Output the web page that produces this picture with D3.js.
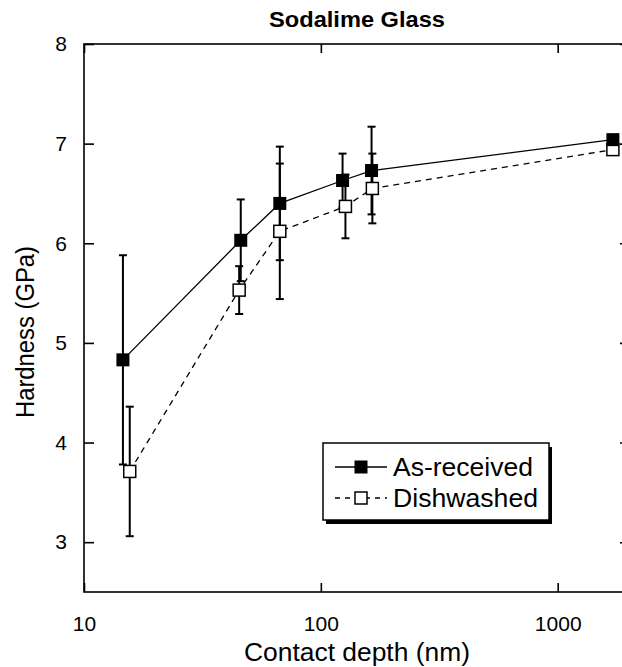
<!DOCTYPE html>
<html><head><meta charset="utf-8">
<script src="https://cdn.jsdelivr.net/npm/d3@7"></script>
<style>body{margin:0;background:#fff}svg{display:block}text{font-family:"Liberation Sans",Arial,sans-serif;fill:#000}</style>
</head><body><svg id="c" width="622" height="667"></svg>
<script>
const depthAs = [14.6, 45.9, 67.1, 123.5, 163.7, 1710];
const hardAs  = [4.83, 6.03, 6.40, 6.63, 6.73, 7.04];
const errAs   = [1.05, 0.41, 0.57, 0.27, 0.44, 0.04];
const depthDw = [15.6, 45.2, 67.1, 127, 165, 1710];
const hardDw  = [3.71, 5.53, 6.12, 6.37, 6.55, 6.94];
const errDw   = [0.65, 0.24, 0.68, 0.32, 0.35, 0.04];
const xTicks = [10, 100, 1000];
const yTicks = [3, 4, 5, 6, 7, 8];
const seriesNames = ["As-received", "Dishwashed"];

const svg = d3.select("#c");
const L = 84, R = 629, T = 44, B = 592;
const x = d3.scaleLog().domain([10, 2000]).range([L, R]);
const y = d3.scaleLinear().domain([2.5, 8]).range([B, T]);

// frame
svg.append("rect").attr("x", L).attr("y", T).attr("width", R - L).attr("height", B - T)
  .attr("fill", "none").attr("stroke", "#000").attr("stroke-width", 1.6);

// axes
const fmt = d => String(d);
svg.append("g").attr("transform", `translate(0,${B})`)
  .call(d3.axisBottom(x).tickValues(xTicks).tickFormat(fmt).tickSizeInner(-9).tickSizeOuter(0).tickPadding(24))
  .call(g => { g.select(".domain").remove(); g.selectAll("line").attr("stroke-width", 1.6);
    g.selectAll("text").attr("font-size", 21); });
svg.append("g").attr("transform", `translate(0,${T})`)
  .call(d3.axisTop(x).tickValues(xTicks).tickFormat("").tickSizeInner(-9).tickSizeOuter(0))
  .call(g => { g.select(".domain").remove(); g.selectAll("line").attr("stroke-width", 1.6); });
svg.append("g").attr("transform", `translate(${L},0)`)
  .call(d3.axisLeft(y).tickValues(yTicks).tickFormat(fmt).tickSizeInner(-10).tickSizeOuter(0).tickPadding(17))
  .call(g => { g.select(".domain").remove(); g.selectAll("line").attr("stroke-width", 1.6);
    g.selectAll("text").attr("font-size", 21); });
svg.append("g").attr("transform", `translate(${R},0)`)
  .call(d3.axisRight(y).tickValues(yTicks).tickFormat("").tickSizeInner(-9).tickSizeOuter(0))
  .call(g => { g.select(".domain").remove(); g.selectAll("line").attr("stroke-width", 1.6); });

// labels
svg.append("text").attr("x", 357).attr("y", 27).attr("text-anchor", "middle")
  .attr("font-size", 22).attr("font-weight", "bold").attr("textLength", 176).attr("lengthAdjust", "spacingAndGlyphs")
  .text("Sodalime Glass");
svg.append("text").attr("x", 357).attr("y", 661).attr("text-anchor", "middle")
  .attr("font-size", 26).attr("textLength", 226).attr("lengthAdjust", "spacingAndGlyphs")
  .text("Contact depth (nm)");
svg.append("text").attr("transform", "translate(34,332) rotate(-90)").attr("text-anchor", "middle")
  .attr("font-size", 26).attr("textLength", 172).attr("lengthAdjust", "spacingAndGlyphs")
  .text("Hardness (GPa)");

const dw = depthDw.map((d, i) => ({d, h: hardDw[i], e: errDw[i]}));
const as = depthAs.map((d, i) => ({d, h: hardAs[i], e: errAs[i]}));
const line = d3.line().x(p => x(p.d)).y(p => y(p.h));

function errbars(data) {
  const g = svg.append("g").attr("stroke", "#000").attr("stroke-width", 2);
  data.forEach(p => {
    const cx = x(p.d), y1 = y(p.h + p.e), y2 = y(p.h - p.e);
    g.append("line").attr("x1", cx).attr("x2", cx).attr("y1", y1).attr("y2", y2);
    g.append("line").attr("x1", cx - 4).attr("x2", cx + 4).attr("y1", y1).attr("y2", y1);
    g.append("line").attr("x1", cx - 4).attr("x2", cx + 4).attr("y1", y2).attr("y2", y2);
  });
}
errbars(dw); errbars(as);
svg.append("path").attr("d", line(dw)).attr("fill", "none").attr("stroke", "#000")
  .attr("stroke-width", 1.3).attr("stroke-dasharray", "6,5");
svg.append("path").attr("d", line(as)).attr("fill", "none").attr("stroke", "#000").attr("stroke-width", 1.3);

const s1 = 13, s2 = 12;
svg.append("g").selectAll("rect").data(dw).join("rect")
  .attr("x", p => x(p.d) - s2 / 2).attr("y", p => y(p.h) - s2 / 2).attr("width", s2).attr("height", s2)
  .attr("fill", "#fff").attr("stroke", "#000").attr("stroke-width", 1.5);
svg.append("g").selectAll("rect").data(as).join("rect")
  .attr("x", p => x(p.d) - s1 / 2).attr("y", p => y(p.h) - s1 / 2).attr("width", s1).attr("height", s1)
  .attr("fill", "#000");

// legend
const lg = svg.append("g");
lg.append("rect").attr("x", 326).attr("y", 447).attr("width", 226).attr("height", 77).attr("fill", "#000");
lg.append("rect").attr("x", 323).attr("y", 443).attr("width", 226).attr("height", 77)
  .attr("fill", "#fff").attr("stroke", "#000").attr("stroke-width", 1.5);
const ly = [467, 498];
lg.append("line").attr("x1", 335).attr("x2", 387).attr("y1", ly[0]).attr("y2", ly[0]).attr("stroke", "#000").attr("stroke-width", 1.6);
lg.append("rect").attr("x", 361 - s1 / 2).attr("y", ly[0] - s1 / 2).attr("width", s1).attr("height", s1).attr("fill", "#000");
lg.append("line").attr("x1", 335).attr("x2", 387).attr("y1", ly[1]).attr("y2", ly[1]).attr("stroke", "#000")
  .attr("stroke-width", 1.3).attr("stroke-dasharray", "5,5");
lg.append("rect").attr("x", 361 - s2 / 2).attr("y", ly[1] - s2 / 2).attr("width", s2).attr("height", s2)
  .attr("fill", "#fff").attr("stroke", "#000").attr("stroke-width", 1.5);
lg.selectAll("text.lt").data(seriesNames).join("text").attr("class", "lt")
  .attr("x", 393).attr("y", (d, i) => ly[i] + 9).attr("font-size", 25)
  .attr("textLength", (d, i) => i === 0 ? 140 : 145).attr("lengthAdjust", "spacingAndGlyphs")
  .text(d => d);
</script></body></html>
